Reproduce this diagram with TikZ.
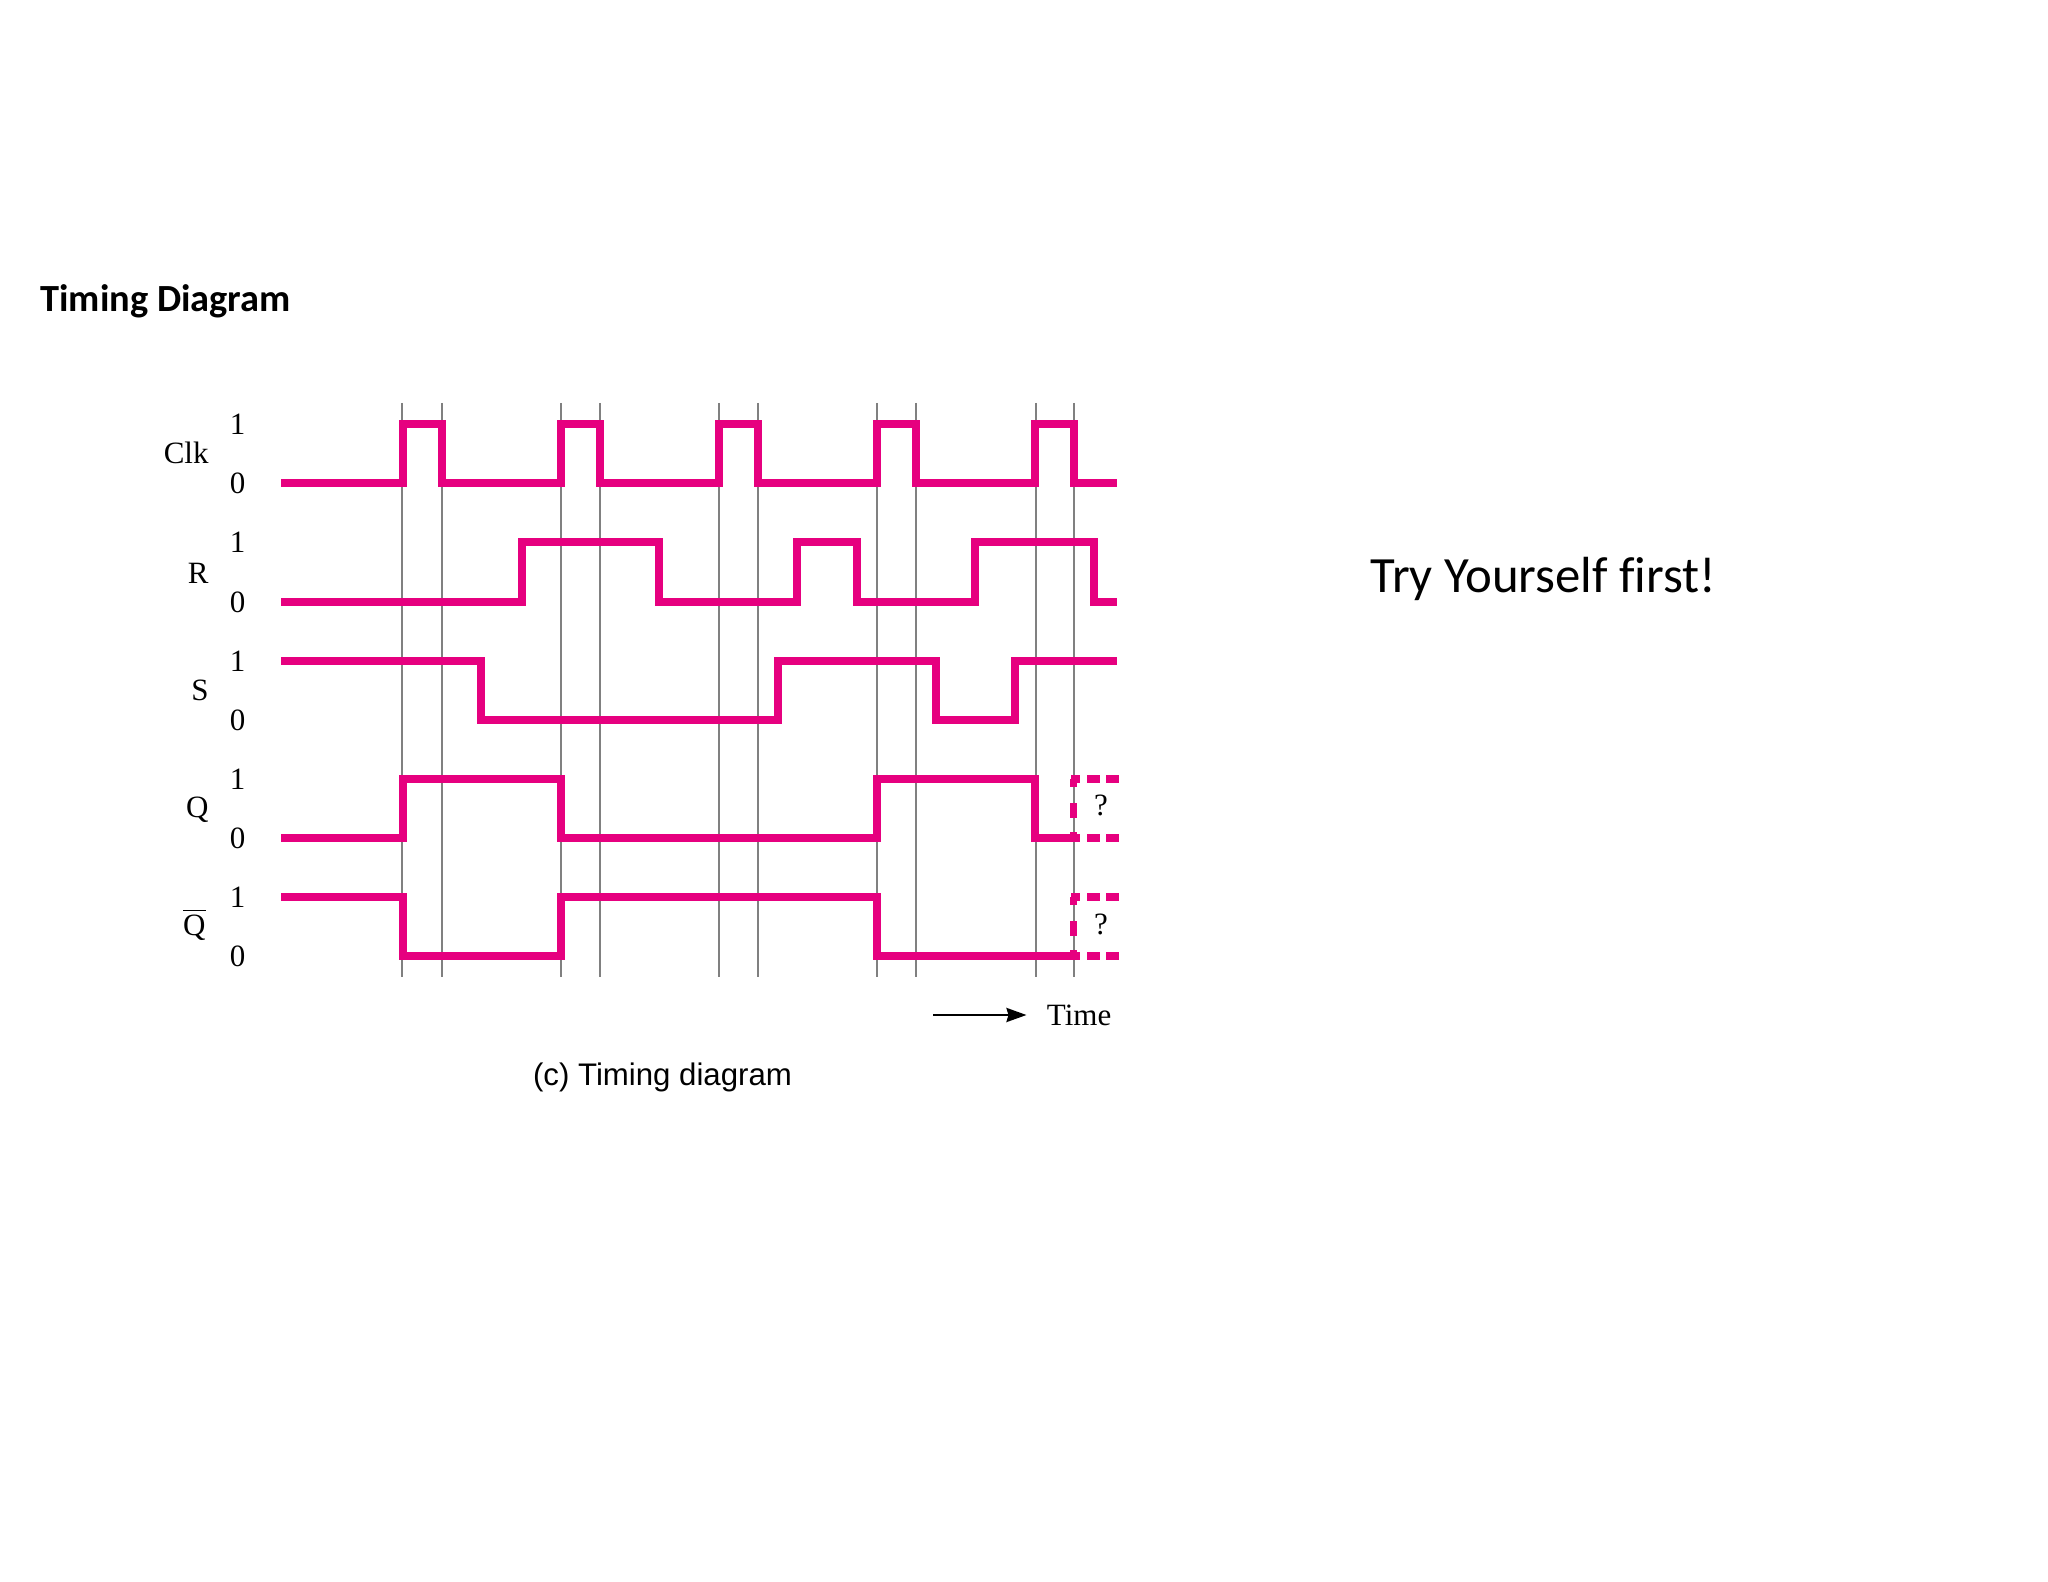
\documentclass[tikz,border=0pt]{standalone}
\usepackage{fontspec}
\setmainfont{Liberation Serif}
\newfontfamily\slidefont{Carlito}
\newfontfamily\captionfont{Liberation Sans}
\usetikzlibrary{arrows.meta}
\definecolor{wavepink}{HTML}{E6007F}
\definecolor{gridgray}{HTML}{808080}
\tikzset{
  wave/.style={draw=wavepink,line width=3.6pt,line cap=butt,miter limit=10},
  unknown/.style={draw=wavepink,line width=3.6pt,dash pattern=on 4.5pt off 3.5pt on 6.5pt off 3pt on 6.5pt},
  unknownv/.style={draw=wavepink,line width=3.6pt,dash pattern=on 4pt off 8pt on 7.5pt off 7pt on 3.5pt},
  gridline/.style={draw=gridgray,line width=1pt},
  sig/.style={font=\fontsize{15.5}{18}\selectfont,inner sep=0pt},
}
\begin{document}
\begin{tikzpicture}[x=0.5pt,y=-0.5pt]
    \useasboundingbox (0,0) rectangle (2048,1582);
    \node[anchor=west,inner sep=0pt,font=\slidefont\bfseries\fontsize{19.2}{23}\selectfont] (title) at (40,301.5) {Timing Diagram};
    \node[anchor=west,inner sep=0pt,font=\slidefont\fontsize{25.4}{30}\selectfont] (tryit) at (1370,579) {Try Yourself f\kern0pt irst!};

    \foreach \x in {402.3,442,561.3,599.7,719,758.3,876.7,916,1035.7,1074}
      \draw[gridline] (\x,403) -- (\x,977);

    \draw[wave] (281,483)--(403,483)--(403,424)--(442,424)--(442,483)--(561,483)--(561,424)--(600,424)--(600,483)--(719,483)--(719,424)--(758,424)--(758,483)--(877,483)--(877,424)--(916,424)--(916,483)--(1035,483)--(1035,424)--(1074,424)--(1074,483)--(1117,483);
    \draw[wave] (281,602)--(522,602)--(522,542)--(659,542)--(659,602)--(797,602)--(797,542)--(857,542)--(857,602)--(975,602)--(975,542)--(1094,542)--(1094,602)--(1117,602);
    \draw[wave] (281,661)--(481,661)--(481,720)--(778,720)--(778,661)--(936,661)--(936,720)--(1015,720)--(1015,661)--(1117,661);
    \draw[wave] (281,838)--(403,838)--(403,779)--(561,779)--(561,838)--(877,838)--(877,779)--(1035,779)--(1035,838)--(1074,838);
    \draw[wave] (281,897)--(403,897)--(403,956)--(561,956)--(561,897)--(877,897)--(877,956)--(1074,956);

    % the two undetermined outputs
    \foreach \hi/\lo in {779/838,897/956}{
      \draw[unknown] (1071,\hi) -- (1119,\hi);
      \draw[unknown] (1071,\lo) -- (1119,\lo);
      \draw[unknownv] (1073.7,\hi) -- (1073.7,\lo);
    }
    \node[sig] (qmark) at (1101,805) {?};
    \node[sig] (qbarmark) at (1101,924) {?};

    \foreach \nm/\hi/\lo in {clk/424/483,r/542/602,s/661/720,q/779/838,qbar/897/956}{
      \node[sig] (\nm one) at (237.7,\hi) {1};
      \node[sig] (\nm zero) at (237.7,\lo) {0};
    }
    \node[sig,anchor=east] (clk) at (209,453) {Clk};
    \node[sig,anchor=east] (r) at (209,573) {R};
    \node[sig,anchor=east] (s) at (209,690) {S};
    \node[sig,anchor=east] (q) at (209,810) {Q};
    \node[sig,anchor=east] (qbar) at (206,925) {$\overline{\mbox{\rule{0pt}{11.5pt}Q}}$};

    \node[sig,anchor=west] (time) at (1046.5,1015) {Time};
    \coordinate (timestart) at (933,1015);
    \draw[-{Stealth[length=10pt,width=7pt,inset=1pt]},line width=1.3pt,shorten >=10pt] (timestart) -- (time.west);
    \node[inner sep=0pt,font=\captionfont\fontsize{15.6}{18}\selectfont] (caption) at (662.5,1077) {(c) Timing diagram};
\end{tikzpicture}
\end{document}
